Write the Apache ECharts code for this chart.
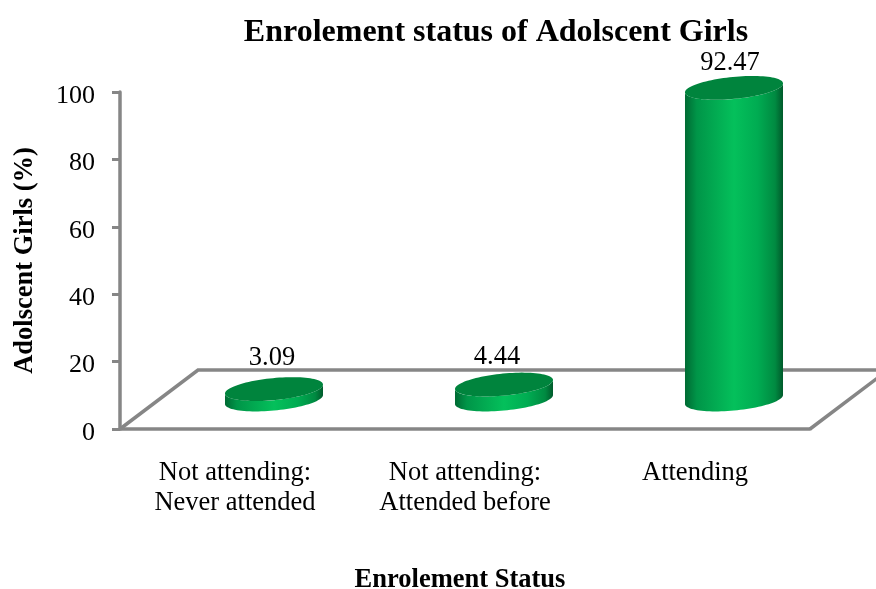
<!DOCTYPE html>
<html>
<head>
<meta charset="utf-8">
<title>Enrolement status of Adolscent Girls</title>
<script src="https://cdn.jsdelivr.net/npm/echarts@6/dist/echarts.min.js"></script>
<style>
  html, body { margin: 0; padding: 0; background: #fff; }
  #chart { width: 876px; height: 589px; }
</style>
</head>
<body>
<div id="chart"></div>
<script>
var categories = ['Not attending:\nNever attended', 'Not attending:\nAttended before', 'Attending'];
var enrolment = [3.09, 4.44, 92.47];
var labelNudgeX = [-2, -7, -4];
var labelNudgeY = [-2, 2, 4];

var FONT = '"Liberation Serif", "Times New Roman", serif';
var GREY = '#868686';
// the floor of the 3d chart is pushed back by this much
var DEPTH_X = 78;
var DEPTH_Y = -59;
var TILT = -5.5 * Math.PI / 180;

// point on a tilted ellipse
function ellipsePt(cx, cy, rx, ry, t) {
  var x = rx * Math.cos(t);
  var y = ry * Math.sin(t);
  return [
    cx + x * Math.cos(TILT) - y * Math.sin(TILT),
    cy + x * Math.sin(TILT) + y * Math.cos(TILT)
  ];
}

function renderFloor(params, api) {
  var rect = params.coordSys;
  var x0 = rect.x;
  var x1 = rect.x + rect.width;
  var y = rect.y + rect.height;
  return {
    type: 'polyline',
    silent: true,
    shape: {
      points: [
        [x1, y],
        [x1 + DEPTH_X, y + DEPTH_Y],
        [x0 + DEPTH_X, y + DEPTH_Y],
        [x0, y]
      ]
    },
    style: { stroke: GREY, lineWidth: 3.5, fill: null }
  };
}

function renderCylinder(params, api) {
  var i = api.value(0);
  var top = api.coord([i, api.value(1)]);
  var base = api.coord([i, 0]);
  var cx = top[0] + DEPTH_X / 2;
  var topY = top[1] + DEPTH_Y / 2;
  var baseY = base[1] + DEPTH_Y / 2;
  var rx = api.size([1, 0])[0] * 0.214;
  var ry = 11;
  // silhouette tangent of the tilted ellipse
  var t0 = Math.atan2(-ry * Math.sin(TILT), rx * Math.cos(TILT));
  var side = [];
  var cap = [];
  var k;
  for (k = 0; k <= 48; k++) {
    side.push(ellipsePt(cx, baseY, rx, ry, t0 + Math.PI * k / 48));
  }
  for (k = 0; k <= 48; k++) {
    side.push(ellipsePt(cx, topY, rx, ry, t0 + Math.PI - Math.PI * k / 48));
  }
  for (k = 0; k < 96; k++) {
    cap.push(ellipsePt(cx, topY, rx, ry, Math.PI * 2 * k / 96));
  }
  return {
    type: 'group',
    children: [
      {
        type: 'polygon',
        shape: { points: side },
        style: {
          fill: new echarts.graphic.LinearGradient(0, 0, 1, 0, [
            { offset: 0, color: '#006a33' },
            { offset: 0.12, color: '#009548' },
            { offset: 0.5, color: '#04c05b' },
            { offset: 0.74, color: '#00ac52' },
            { offset: 0.92, color: '#008a41' },
            { offset: 1, color: '#005a2b' }
          ])
        }
      },
      {
        type: 'polygon',
        shape: { points: cap },
        style: { fill: '#00843d' }
      },
      {
        type: 'text',
        style: {
          text: String(api.value(1)),
          x: cx + labelNudgeX[i],
          y: topY - 29 + labelNudgeY[i],
          align: 'center',
          verticalAlign: 'middle',
          font: '26.5px ' + FONT,
          fill: '#000'
        }
      }
    ]
  };
}

var chart = echarts.init(document.getElementById('chart'), null, { renderer: 'canvas' });
chart.setOption({
  animation: false,
  backgroundColor: '#fff',
  title: {
    text: 'Enrolement status of Adolscent Girls',
    left: 491,
    top: 12,
    textAlign: 'center',
    textStyle: { fontFamily: FONT, fontSize: 32, fontWeight: 'bold', color: '#000' }
  },
  grid: { left: 120, right: 66, top: 92, bottom: 160, outerBoundsMode: 'none' },
  xAxis: {
    type: 'category',
    data: categories,
    name: 'Enrolement Status',
    nameLocation: 'middle',
    nameGap: 138,
    nameTextStyle: { fontFamily: FONT, fontSize: 26.5, fontWeight: 'bold', color: '#000', padding: [0, 10, 0, 0] },
    axisLine: { show: true, lineStyle: { color: GREY, width: 3.5 } },
    axisTick: { show: false },
    axisLabel: {
      interval: 0,
      margin: 29,
      fontFamily: FONT,
      fontSize: 26.5,
      lineHeight: 30,
      color: '#000'
    }
  },
  yAxis: {
    type: 'value',
    min: 0,
    max: 100,
    interval: 20,
    name: 'Adolscent Girls (%)',
    nameLocation: 'middle',
    nameGap: 81,
    nameTextStyle: { fontFamily: FONT, fontSize: 26.5, fontWeight: 'bold', color: '#000' },
    splitLine: { show: false },
    axisLine: { show: true, lineStyle: { color: GREY, width: 3.5 } },
    axisTick: { show: true, length: 8, lineStyle: { color: GREY, width: 3 } },
    axisLabel: { margin: 25, verticalAlign: 'top', lineHeight: 8, fontFamily: FONT, fontSize: 26, color: '#000' }
  },
  series: [
    {
      type: 'custom',
      name: 'floor',
      clip: false,
      silent: true,
      renderItem: renderFloor,
      data: [[0, 0]],
      z: 1
    },
    {
      type: 'custom',
      name: 'Adolescent girls',
      clip: false,
      renderItem: renderCylinder,
      encode: { x: 0, y: 1 },
      data: enrolment.map(function (v, i) { return [i, v]; }),
      z: 2
    }
  ]
});
</script>
</body>
</html>
